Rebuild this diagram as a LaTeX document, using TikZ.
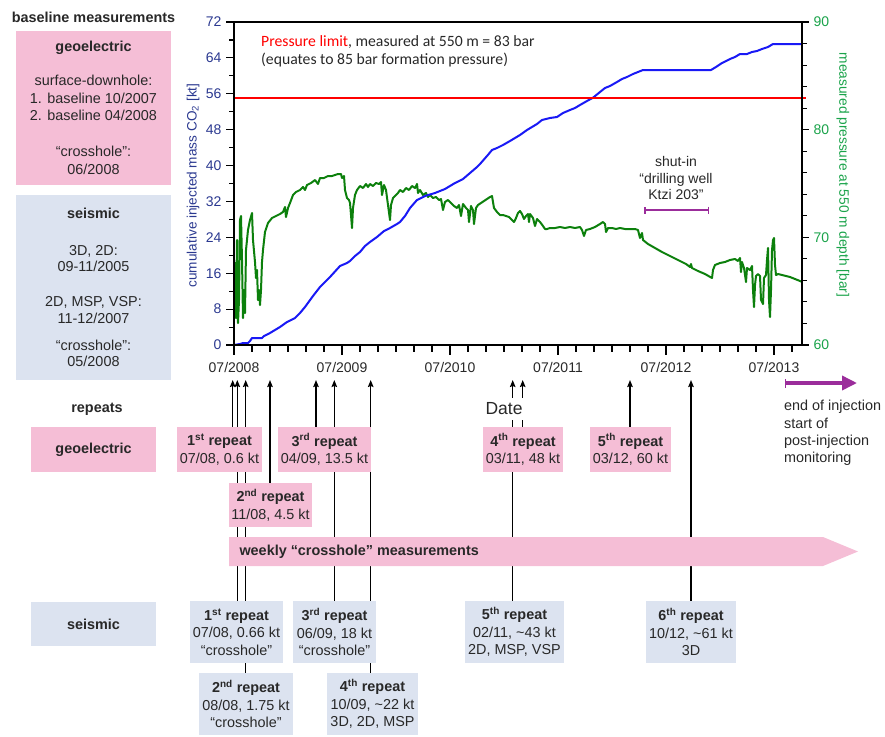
\documentclass[tikz,border=0pt]{standalone}
\usepackage{fontspec}
\setmainfont{Liberation Sans}
\newfontfamily\limitfont{Carlito}
\usetikzlibrary{arrows.meta,backgrounds}

\definecolor{pinkbox}{RGB}{245,190,214}
\definecolor{bluebox}{RGB}{220,227,240}
\definecolor{kttext}{RGB}{43,57,144}
\definecolor{bartext}{RGB}{26,163,74}
\definecolor{pgreen}{RGB}{12,128,12}
\definecolor{mblue}{RGB}{25,25,245}
\definecolor{shutin}{RGB}{155,45,155}
\definecolor{txt}{RGB}{40,40,40}

\tikzset{
    geobox/.style={fill=pinkbox, align=center, inner sep=0pt},
    seisbox/.style={fill=bluebox, align=center, inner sep=0pt},
    repline/.style={line width=1.3pt, -{Stealth[length=7pt,width=5.5pt,inset=1pt]}},
    ticklab/.style={font=\fontsize{14}{16}\selectfont, inner sep=0pt},
    boldlab/.style={font=\fontsize{14.4}{17.5}\selectfont\bfseries},
}

\begin{document}
\begin{tikzpicture}[x=1pt,y=-1pt, every node/.append style={font=\fontsize{14.4}{17.5}\selectfont, text=txt}]
    \useasboundingbox (0,0) rectangle (885,736);

    % baseline column
    \node[boldlab] (basetitle) at (93.5,17) {baseline measurements};
    \node[geobox, minimum width=155pt, minimum height=154pt, font=\fontsize{14.4}{17.5}\selectfont] (geobase) at (93.5,108)
        {\textbf{geoelectric}\\[16.5pt]surface-downhole:\\1. baseline 10/2007\\2. baseline 04/2008\\[18.5pt]“crosshole”:\\06/2008};
    \node[seisbox, minimum width=155pt, minimum height=185pt, font=\fontsize{14.4}{16.7}\selectfont] (seisbase) at (93.5,287.5)
        {\textbf{seismic}\\[20pt]3D, 2D:\\09-11/2005\\[18pt]2D, MSP, VSP:\\11-12/2007\\[10pt]“crosshole”:\\05/2008};

    % plot
    \draw[pgreen, line width=2pt, line join=round] plot coordinates {
        (234,300) (235,263) (236,318) (237,240) (238,323) (239,300) (240,220) (241,216) (242,260) (243,318)
        (244,290) (245,313) (246,250) (248,230) (250,220) (252,213) (253,240) (255,262) (256,278) (257,270)
        (258,300) (259,290) (260,305) (261,290) (262,262) (263,250) (265,232) (268,223) (272,218) (276,216)
        (280,214) (283,212) (285,207) (286,217) (288,208) (290,203) (293,195) (296,192) (300,190) (303,187)
        (305,190) (307,185) (311,183) (315,180) (318,184) (320,178) (324,178) (328,176) (332,176) (335,175)
        (338,174) (341,174) (342,178) (344,176) (345,190) (347,198) (349,200) (350,203) (351,215) (352,228)
        (353,208) (355,195) (357,190) (360,186) (363,188) (366,184) (368,187) (370,184) (373,186) (376,183)
        (379,184) (381,182) (382,195) (384,185) (386,190) (388,205) (390,220) (391,205) (393,198) (395,196)
        (398,193) (400,190) (403,192) (406,188) (409,190) (412,186) (415,188) (417,184) (418,193) (420,190)
        (423,195) (426,193) (428,197) (430,195) (433,198) (436,197) (439,200) (441,199) (443,210) (445,202)
        (448,200) (451,203) (454,206) (457,208) (459,205) (461,216) (463,204) (466,208) (468,210) (469,222)
        (471,206) (473,210) (474,224) (476,208) (478,205) (481,203) (484,201) (487,199) (490,197) (492,196)
        (494,208) (497,212) (500,215) (503,215) (506,216) (509,217) (511,219) (514,222) (516,218) (518,213)
        (520,211) (522,214) (524,219) (526,216) (528,214) (529,222) (530,214) (533,218) (535,226) (537,219)
        (540,222) (543,226) (545,229) (547,229) (550,228) (555,228) (560,227) (565,228) (570,227) (575,228)
        (580,227) (582,230) (584,236) (586,230) (590,229) (595,227) (600,224) (603,222) (605,224) (606,232)
        (608,228) (612,228) (616,229) (620,228) (625,229) (630,229) (635,229) (638,230) (640,238) (642,233)
        (643,240) (648,244) (655,248) (662,252) (670,256) (678,260) (686,264) (690,267) (691,264) (692,268)
        (698,271) (705,274) (712,278) (713,270) (715,265) (720,263) (725,262) (730,260) (735,259) (738,261)
        (740,258) (741,272) (742,262) (744,268) (746,282) (747,268) (750,270) (752,266) (753,290) (754,307)
        (755,285) (756,276) (758,274) (760,276) (761,300) (763,304) (764,278) (766,275) (767,260) (768,248)
        (769,300) (770,317) (771,290) (772,250) (773,240) (774,238) (775,265) (776,275) (778,274) (782,275)
        (786,276) (790,277) (795,279) (800,281) (802,282)};
    \draw[mblue, line width=2pt, line join=round] plot coordinates {
        (234,345) (240,344) (243,343) (248,343) (250,341) (252,338) (262,338) (264,336) (270,333) (280,327)
        (287,322) (295,318) (300,313) (305,307) (313,296) (320,287) (330,277) (340,266) (347,263) (350,261)
        (355,256) (360,252) (365,246) (370,242) (377,237) (384,231) (390,228) (397,224) (400,222) (405,216)
        (410,208) (417,200) (425,196) (435,193) (445,189) (450,186) (455,183) (463,179) (470,173) (477,167)
        (480,164) (487,156) (492,150) (497,148) (503,145) (510,141) (515,138) (520,135) (527,130) (532,127)
        (537,124) (542,120) (550,118) (557,117) (563,113) (570,110) (575,108) (580,105) (587,101) (593,97.7)
        (600,92) (605,88) (610,86) (617,82) (622,79) (627,77) (633,74) (638,72) (643,70) (711,70)
        (716,67) (722,63) (730,59) (735,57) (740,54) (747,54) (752,52) (757,51) (762,49) (768,47)
        (773,44) (802,44)};
    \draw[red, line width=2.2pt] (234,97.7) -- (806,97.7);
    \draw[line width=1.2pt] (234,22) rectangle (802,345);

    % axes
    \foreach \k in {0,...,18}
        \draw[line width=1.1pt] (234,345-\k*17.944) -- (229,345-\k*17.944);
    \foreach \k [evaluate=\k as \lab using int(8*\k)] in {0,...,9}
        \draw[line width=1.1pt] (234,345-\k*35.889) -- (226,345-\k*35.889)
            node[ticklab, anchor=east, text=kttext, xshift=-4pt] (kt\k) {\lab};
    \foreach \j in {0,...,15}
        \draw[line width=1.1pt] (802,345-\j*21.533) -- (807,345-\j*21.533);
    \foreach \j [evaluate=\j as \lab using int(60+10*\j)] in {0,...,3}
        \draw[line width=1.1pt] (802,345-\j*107.667) -- (809,345-\j*107.667)
            node[ticklab, anchor=west, text=bartext, xshift=4pt] (bar\j) {\lab};
    \foreach \i in {0,...,31}
        \draw[line width=1.1pt] (234+\i*18,345) -- (234+\i*18,352);
    \foreach \i [evaluate=\i as \yr using int(2008+\i)] in {0,...,5} {
        \draw[line width=1.1pt] (234+\i*108,345) -- (234+\i*108,355);
        \node[ticklab] (yr\i) at (234+\i*108,367) {07/\yr};
    }
    \node[rotate=90, font=\fontsize{13.6}{16}\selectfont, text=kttext] (ktlabel) at (193,185.5)
        {cumulative injected mass CO\textsubscript{2} [kt]};
    \node[rotate=-90, font=\fontsize{13.7}{16}\selectfont, text=bartext] (barlabel) at (843,175)
        {measured pressure at 550 m depth [bar]};

    \node[anchor=west, align=left, inner sep=0pt, font=\limitfont\fontsize{15.7}{18}\selectfont] (limit) at (261,51)
        {\textcolor{red}{Pressure limit}, measured at 550 m = 83 bar\\(equates to 85 bar formation pressure)};

    \node[align=center, font=\fontsize{14}{16.3}\selectfont] (shuttext) at (676,178) {shut-in\\“drilling well\\Ktzi 203”};
    \coordinate (shuta) at (644,210);
    \coordinate (shutb) at (709,210);
    \draw[shutin, line width=1.5pt, {Bar[width=7pt]}-{Bar[width=7pt]}] (shuta) -- (shutb);

    \coordinate (eoi) at (785,383);
    \coordinate (eoiend) at (857,383);
    \draw[shutin, line width=3.5pt, {Bar[width=9pt,line width=1pt]}-{Triangle[length=15pt,width=14pt]}] (eoi) -- (eoiend);
    \node[anchor=west, align=left, inner sep=0pt, font=\fontsize{14.4}{17.3}\selectfont] (eoitext) at (784,433)
        {end of injection\\start of\\post-injection\\monitoring};

    % repeats
    \node[boldlab] (reptitle) at (97,409) {repeats};
    \node[geobox, boldlab, minimum width=125pt, minimum height=45pt] (geolab) at (93.5,449.5) {geoelectric};
    \node[seisbox, boldlab, minimum width=125pt, minimum height=44pt] (seislab) at (93.5,624) {seismic};

    \node[geobox, minimum width=85pt, minimum height=45pt] (geo1) at (219.5,449.5) {\textbf{1\textsuperscript{st} repeat}\\07/08, 0.6 kt};
    \node[geobox, minimum width=83pt, minimum height=44pt] (geo2) at (270.5,505) {\textbf{2\textsuperscript{nd} repeat}\\11/08, 4.5 kt};
    \node[geobox, minimum width=93pt, minimum height=45pt] (geo3) at (324.5,449.5) {\textbf{3\textsuperscript{rd} repeat}\\04/09, 13.5 kt};
    \node[geobox, minimum width=80pt, minimum height=45pt] (geo4) at (523,449.5) {\textbf{4\textsuperscript{th} repeat}\\03/11, 48 kt};
    \node[geobox, minimum width=81pt, minimum height=45pt] (geo5) at (630.5,449.5) {\textbf{5\textsuperscript{th} repeat}\\03/12, 60 kt};

    \fill[pinkbox] (229,537) -- (823,537) -- (858,551.5) -- (823,566) -- (229,566) -- cycle;
    \node[boldlab, anchor=west] (weekly) at (236,552) {weekly “crosshole” measurements};

    \node[seisbox, minimum width=93pt, minimum height=62pt] (seis1) at (236.5,632) {\textbf{1\textsuperscript{st} repeat}\\07/08, 0.66 kt\\“crosshole”};
    \node[seisbox, minimum width=94pt, minimum height=62pt] (seis2) at (246,704) {\textbf{2\textsuperscript{nd} repeat}\\08/08, 1.75 kt\\“crosshole”};
    \node[seisbox, minimum width=83pt, minimum height=62pt] (seis3) at (334.5,632) {\textbf{3\textsuperscript{rd} repeat}\\06/09, 18 kt\\“crosshole”};
    \node[seisbox, minimum width=91pt, minimum height=62pt] (seis4) at (372.5,704) {\textbf{4\textsuperscript{th} repeat}\\10/09, \textasciitilde22 kt\\3D, 2D, MSP};
    \node[seisbox, minimum width=99pt, minimum height=62pt] (seis5) at (514.5,632) {\textbf{5\textsuperscript{th} repeat}\\02/11, \textasciitilde43 kt\\2D, MSP, VSP};
    \node[seisbox, minimum width=90pt, minimum height=62pt] (seis6) at (691,632) {\textbf{6\textsuperscript{th} repeat}\\10/12, \textasciitilde61 kt\\3D};

    \coordinate (dg1) at (232.7,380);
    \coordinate (ds1) at (237.3,380);
    \coordinate (ds2) at (245.7,380);
    \coordinate (dg2) at (270,380);
    \coordinate (dg3) at (316,380);
    \coordinate (ds3) at (334.3,380);
    \coordinate (ds4) at (370.7,380);
    \coordinate (ds5) at (512.7,380);
    \coordinate (dg4) at (522.7,380);
    \coordinate (dg5) at (630,380);
    \coordinate (ds6) at (691,380);
    \begin{scope}[on background layer]
        \draw[repline] (geo1.north -| dg1) -- (dg1);
        \draw[repline] (geo2.north -| dg2) -- (dg2);
        \draw[repline] (geo3.north -| dg3) -- (dg3);
        \draw[repline] (geo4.north -| dg4) -- (dg4);
        \draw[repline] (geo5.north -| dg5) -- (dg5);
        \draw[repline] (seis1.north -| ds1) -- (ds1);
        \draw[repline] (seis2.north -| ds2) -- (ds2);
        \draw[repline] (seis3.north -| ds3) -- (ds3);
        \draw[repline] (seis4.north -| ds4) -- (ds4);
        \draw[repline] (seis5.north -| ds5) -- (ds5);
        \draw[repline] (seis6.north -| ds6) -- (ds6);
    \end{scope}
    \node[fill=white, inner xsep=1pt, inner ysep=5pt, font=\fontsize{17.5}{20}\selectfont] (date) at (504,409) {Date};
\end{tikzpicture}
\end{document}
